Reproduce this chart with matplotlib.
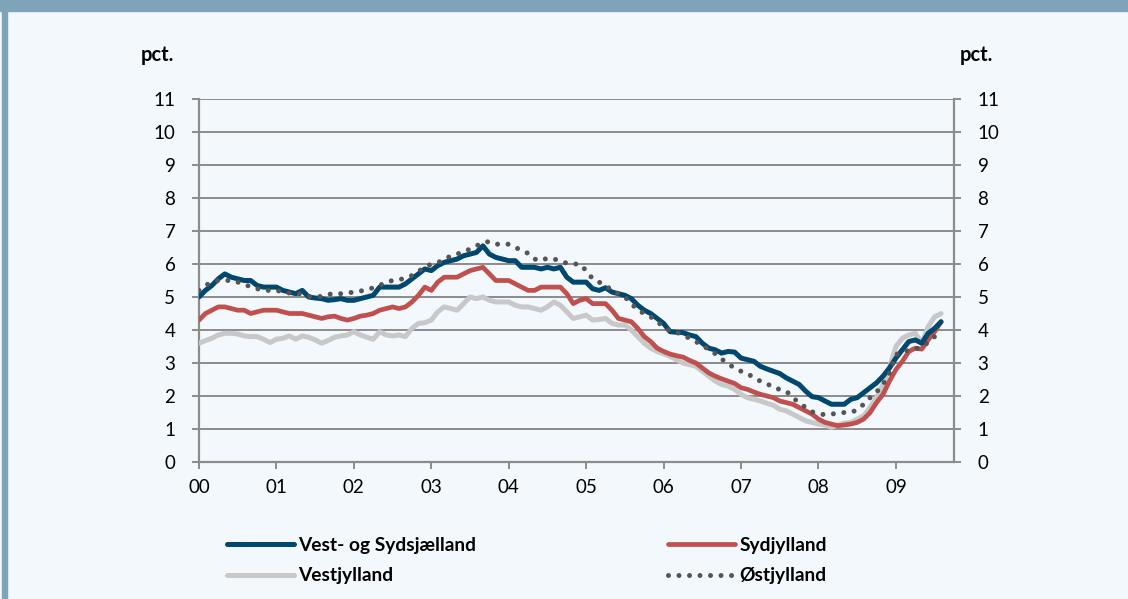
import numpy as np
import matplotlib
matplotlib.use("Agg")
import matplotlib.pyplot as plt
from matplotlib.lines import Line2D

plt.rcParams['font.family'] = ['Lato', 'DejaVu Sans']

# monthly data, Jan 2000 onwards (pct.)
vest_sydsj = [5.0, 5.2, 5.35, 5.55, 5.7, 5.6, 5.55, 5.5, 5.5, 5.35, 5.3, 5.3,
              5.3, 5.2, 5.15, 5.1, 5.2, 5.0, 4.97, 4.95, 4.9, 4.92, 4.95, 4.9,
              4.9, 4.95, 5.0, 5.05, 5.3, 5.3, 5.3, 5.3, 5.4, 5.55, 5.7, 5.85,
              5.8, 5.95, 6.05, 6.1, 6.15, 6.25, 6.3, 6.35, 6.55, 6.3, 6.2, 6.15,
              6.1, 6.1, 5.9, 5.9, 5.9, 5.85, 5.9, 5.85, 5.9, 5.6, 5.45, 5.45,
              5.45, 5.25, 5.2, 5.28, 5.15, 5.1, 5.05, 4.95, 4.75, 4.6, 4.5, 4.35,
              4.2, 3.95, 3.93, 3.92, 3.85, 3.8, 3.6, 3.45, 3.4, 3.3, 3.35, 3.33,
              3.15, 3.1, 3.05, 2.9, 2.82, 2.75, 2.68, 2.55, 2.45, 2.35, 2.15, 1.98,
              1.95, 1.85, 1.75, 1.75, 1.75, 1.9, 1.95, 2.1, 2.25, 2.4, 2.6, 2.85,
              3.15, 3.4, 3.65, 3.7, 3.6, 3.9, 4.05, 4.25]
sydjylland = [4.3, 4.5, 4.6, 4.7, 4.7, 4.65, 4.6, 4.6, 4.5, 4.55, 4.6, 4.6,
              4.6, 4.55, 4.5, 4.5, 4.5, 4.45, 4.4, 4.35, 4.4, 4.42, 4.35, 4.3,
              4.35, 4.42, 4.45, 4.5, 4.6, 4.65, 4.7, 4.65, 4.7, 4.85, 5.05, 5.3,
              5.2, 5.45, 5.6, 5.6, 5.6, 5.7, 5.8, 5.85, 5.9, 5.7, 5.5, 5.5,
              5.5, 5.4, 5.3, 5.2, 5.2, 5.3, 5.3, 5.3, 5.3, 5.1, 4.8, 4.9,
              4.95, 4.8, 4.8, 4.8, 4.6, 4.35, 4.3, 4.25, 4.05, 3.8, 3.65, 3.45,
              3.35, 3.27, 3.22, 3.18, 3.08, 3.0, 2.85, 2.7, 2.6, 2.52, 2.45, 2.38,
              2.25, 2.2, 2.12, 2.05, 2.0, 1.95, 1.85, 1.8, 1.75, 1.65, 1.55, 1.45,
              1.3, 1.2, 1.15, 1.1, 1.12, 1.15, 1.2, 1.3, 1.5, 1.8, 2.05, 2.45,
              2.8, 3.05, 3.35, 3.45, 3.42, 3.7, 3.95, 4.25]
vestjylland = [3.6, 3.68, 3.75, 3.85, 3.9, 3.9, 3.88, 3.82, 3.8, 3.8, 3.72, 3.62,
               3.72, 3.75, 3.82, 3.72, 3.82, 3.78, 3.7, 3.6, 3.68, 3.78, 3.82, 3.85,
               3.95, 3.85, 3.78, 3.72, 3.95, 3.85, 3.82, 3.85, 3.8, 4.05, 4.2, 4.22,
               4.3, 4.55, 4.7, 4.65, 4.6, 4.8, 5.0, 4.95, 5.0, 4.9, 4.85, 4.85,
               4.85, 4.75, 4.7, 4.7, 4.65, 4.6, 4.7, 4.85, 4.75, 4.55, 4.35, 4.4,
               4.45, 4.3, 4.32, 4.35, 4.2, 4.15, 4.15, 4.0, 3.8, 3.6, 3.45, 3.35,
               3.28, 3.2, 3.1, 3.0, 2.95, 2.9, 2.75, 2.6, 2.45, 2.35, 2.3, 2.2,
               2.05, 1.95, 1.9, 1.85, 1.78, 1.72, 1.6, 1.55, 1.45, 1.35, 1.25, 1.2,
               1.15, 1.12, 1.05, 1.12, 1.18, 1.2, 1.3, 1.4, 1.65, 1.95, 2.35, 2.85,
               3.5, 3.75, 3.85, 3.9, 3.6, 4.1, 4.4, 4.5]
ostjylland = [5.2, 5.35, 5.45, 5.5, 5.5, 5.5, 5.45, 5.4, 5.3, 5.25, 5.2, 5.2,
              5.2, 5.15, 5.12, 5.12, 5.08, 5.02, 5.0, 5.02, 5.08, 5.1, 5.1, 5.12,
              5.15, 5.18, 5.22, 5.28, 5.35, 5.45, 5.5, 5.52, 5.58, 5.65, 5.78, 5.9,
              6.0, 6.05, 6.12, 6.25, 6.3, 6.38, 6.45, 6.55, 6.65, 6.68, 6.6, 6.6,
              6.6, 6.5, 6.42, 6.32, 6.15, 6.1, 6.18, 6.15, 6.1, 6.02, 6.0, 6.0,
              5.8, 5.55, 5.45, 5.35, 5.2, 5.1, 5.0, 4.8, 4.6, 4.5, 4.4, 4.25,
              4.1, 3.98, 3.93, 3.85, 3.75, 3.65, 3.52, 3.42, 3.28, 3.12, 2.97, 2.85,
              2.75, 2.68, 2.55, 2.45, 2.38, 2.25, 2.2, 2.15, 1.95, 1.8, 1.65, 1.52,
              1.47, 1.43, 1.45, 1.48, 1.5, 1.5, 1.58, 1.75, 1.95, 2.12, 2.35, 2.7,
              3.25, 3.35, 3.38, 3.42, 3.5, 3.62, 3.8, 3.95]
year_labels = ['00', '01', '02', '03', '04', '05', '06', '07', '08', '09']

bg = '#f3f8fc'
grid_c = '#8c8c8c'
navy = '#00486f'
red = '#c0504d'
grey = '#c8c8c8'
dots = '#555555'

fig = plt.figure(figsize=(11.28, 5.99), dpi=100, facecolor=bg)
# frame: top band and left edge
fig.patches.append(plt.Rectangle((0, 1 - 11 / 599), 1, 11 / 599, transform=fig.transFigure,
                                 color='#7fa3b8', zorder=0))
fig.patches.append(plt.Rectangle((2 / 1128, 0), 5 / 1128, 1, transform=fig.transFigure,
                                 color='#7fa3b8', zorder=0))

ax = fig.add_axes([199 / 1128, 1 - 462 / 599, 755 / 1128, 363 / 599])
ax.set_facecolor(bg)
months = np.arange(len(vest_sydsj))

ax.plot(months, vestjylland, color=grey, lw=3.6, solid_capstyle='round', zorder=3)
ax.plot(months, sydjylland, color=red, lw=3.4, solid_capstyle='round', zorder=4)
ax.plot(months, vest_sydsj, color=navy, lw=3.6, solid_capstyle='round', zorder=5)
ax.plot(months, ostjylland, color=dots, lw=3.6, linestyle=(0, (0.001, 2.1)),
        dash_capstyle='round', zorder=6)

ax.set_xlim(0, 117)
ax.set_ylim(0, 11)
ax.set_yticks(range(12))
ax.set_xticks(np.arange(len(year_labels)) * 12)
ax.set_xticklabels(year_labels)
ax.grid(axis='y', color=grid_c, lw=1.4)
ax.set_axisbelow(True)
ax.spines['top'].set_visible(False)
for side in ['left', 'right', 'bottom']:
    ax.spines[side].set_color(grid_c)
    ax.spines[side].set_linewidth(1.6)
ax.tick_params(axis='y', which='both', left=True, right=True, labelleft=True, labelright=True,
               length=5, width=1.4, color=grid_c, labelsize=13.5, pad=12, direction='out')
ax.tick_params(axis='x', length=5, width=1.4, color=grid_c, labelsize=13.5, pad=7)

fig.text(174 / 1128, 1 - 55 / 599, 'pct.', ha='right', va='center', fontsize=14.5, fontweight='bold')
fig.text(960 / 1128, 1 - 55 / 599, 'pct.', ha='left', va='center', fontsize=14.5, fontweight='bold')

handles = [Line2D([], [], color=navy, lw=3.6, solid_capstyle='round'),
           Line2D([], [], color=grey, lw=3.6, solid_capstyle='round'),
           Line2D([], [], color=red, lw=3.4, solid_capstyle='round'),
           Line2D([], [], color=dots, lw=3.6, linestyle=(0, (0.001, 2.1)), dash_capstyle='round')]
labels = ['Vest- og Sydsjælland', 'Vestjylland', 'Sydjylland', 'Østjylland']
leg = fig.legend(handles, labels, ncol=2, loc='center left',
                 bbox_to_anchor=(210 / 1128, 1 - 560.5 / 599), frameon=False,
                 prop={'weight': 'bold', 'size': 13.8}, handlelength=3.5, handletextpad=0.22,
                 columnspacing=10.0, labelspacing=0.72)

fig.savefig('out.png', dpi=100, facecolor=bg)
